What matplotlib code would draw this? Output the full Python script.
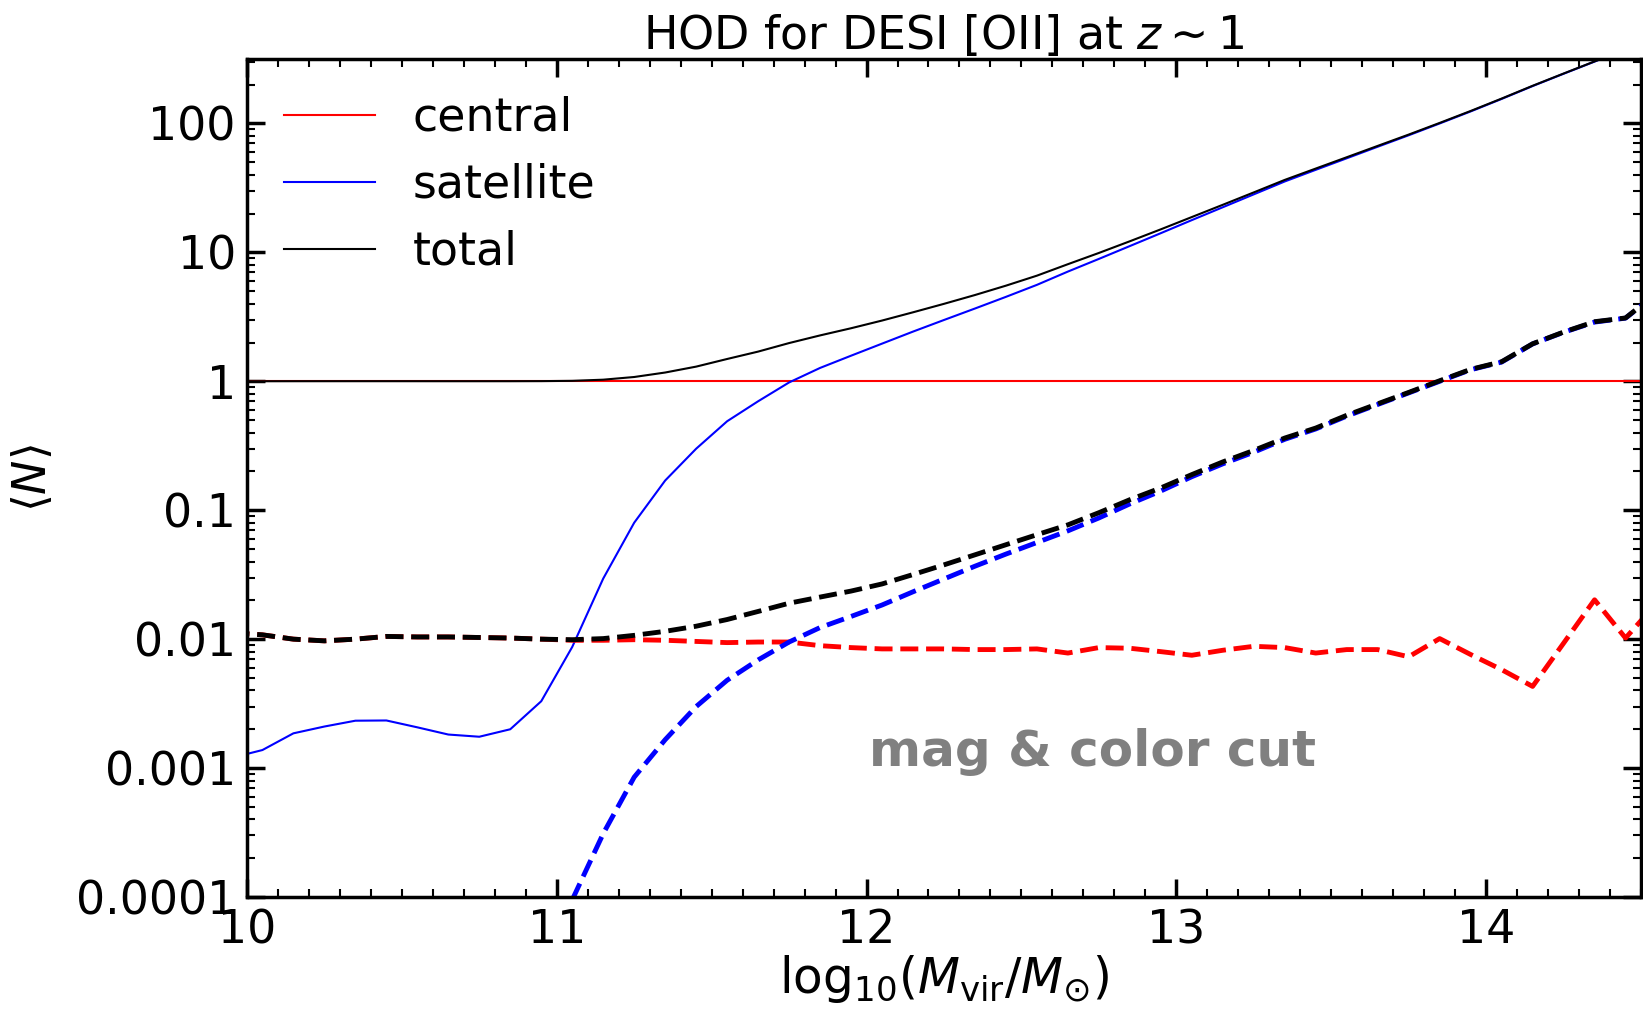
import matplotlib
matplotlib.use('Agg')
import matplotlib.pyplot as plt
from matplotlib.ticker import FixedLocator, MultipleLocator, LogLocator, NullFormatter

# halo mass bins, log10(Mvir/Msun)
logm = [9.95, 10.05, 10.15, 10.25, 10.35, 10.45, 10.55, 10.65, 10.75, 10.85,
        10.95, 11.05, 11.15, 11.25, 11.35, 11.45, 11.55, 11.65, 11.75, 11.85,
        11.95, 12.05, 12.15, 12.25, 12.35, 12.45, 12.55, 12.65, 12.75, 12.85,
        12.95, 13.05, 13.15, 13.25, 13.35, 13.45, 13.55, 13.65, 13.75, 13.85,
        13.95, 14.05, 14.15, 14.25, 14.35, 14.45, 14.55]

# all galaxies (solid)
cen_all = [1.0] * 47
sat_all = [0.0012, 0.00138, 0.00186, 0.0021, 0.00233, 0.00234, 0.00207, 0.00182, 0.00175, 0.0020,
           0.0033, 0.0087, 0.0295, 0.080, 0.17, 0.30, 0.49, 0.70, 0.98, 1.27,
           1.58, 1.96, 2.43, 2.99, 3.67, 4.52, 5.6, 7.1, 8.9, 11.2,
           14.1, 17.8, 22.4, 28.2, 35.5, 43.7, 53.7, 66.0, 81.0, 100.0,
           124.0, 155.0, 195.0, 243.0, 302.0, 376.0, 468.0]
tot_all = [1.0012, 1.0014, 1.0019, 1.0021, 1.0023, 1.0023, 1.0021, 1.0018, 1.0018, 1.0020,
           1.0033, 1.0087, 1.0295, 1.08, 1.17, 1.30, 1.49, 1.70, 1.98, 2.27,
           2.58, 2.96, 3.43, 3.99, 4.67, 5.52, 6.6, 8.1, 9.9, 12.2,
           15.1, 18.8, 23.4, 29.2, 36.5, 44.7, 54.7, 67.0, 82.0, 101.0,
           125.0, 156.0, 196.0, 244.0, 303.0, 377.0, 469.0]

# mag & color cut (dashed)
cen_cut = [0.0112, 0.0108, 0.0100, 0.0097, 0.0100, 0.0105, 0.0104, 0.0104, 0.0103, 0.0102,
           0.0100, 0.0098, 0.0098, 0.0099, 0.0098, 0.0096, 0.0094, 0.0095, 0.0095, 0.0089,
           0.0086, 0.0084, 0.0084, 0.0084, 0.0083, 0.0083, 0.0084, 0.0078, 0.0086, 0.0085,
           0.0080, 0.0075, 0.0082, 0.0088, 0.0086, 0.0078, 0.0083, 0.0083, 0.0073, 0.0101,
           0.0076, 0.0058, 0.0043, 0.0093, 0.0202, 0.0102, 0.019]
logm_sat_cut = logm[11:]
sat_cut = [9.5e-5, 3.1e-4, 8.5e-4, 1.66e-3, 3.0e-3, 4.8e-3, 6.9e-3, 9.5e-3, 0.0123,
           0.0150, 0.0184, 0.0233, 0.0293, 0.0368, 0.0457, 0.0562, 0.0692, 0.0871, 0.112,
           0.141, 0.182, 0.229, 0.282, 0.355, 0.427, 0.537, 0.661, 0.813, 1.0,
           1.23, 1.41, 1.95, 2.40, 2.88, 3.09, 4.79]
tot_cut = [0.0112, 0.0108, 0.0100, 0.0097, 0.0100, 0.0105, 0.0104, 0.0104, 0.0103, 0.0102,
           0.0100, 0.0099, 0.0101, 0.0107, 0.0115, 0.0126, 0.0142, 0.0164, 0.0190, 0.0212,
           0.0236, 0.0268, 0.0317, 0.0377, 0.0451, 0.0540, 0.0646, 0.0770, 0.0957, 0.1207,
           0.149, 0.189, 0.237, 0.291, 0.363, 0.434, 0.545, 0.669, 0.820, 1.010,
           1.238, 1.419, 1.954, 2.41, 2.90, 3.10, 4.81]

yticks = [1e-4, 1e-3, 1e-2, 1e-1, 1, 10, 100]
ylabels = ['0.0001', '0.001', '0.01', '0.1', '1', '10', '100']

fig = plt.figure(figsize=(16.43, 10.14), dpi=100)
ax = fig.add_axes([0.1503, 0.1154, 0.8485, 0.8264])

ax.plot(logm, cen_all, color='red', lw=1.5, label='central')
ax.plot(logm, sat_all, color='blue', lw=1.5, label='satellite')
ax.plot(logm, tot_all, color='black', lw=1.5, label='total')

ax.plot(logm, cen_cut, color='red', lw=3.5, ls='--')
ax.plot(logm_sat_cut, sat_cut, color='blue', lw=3.5, ls='--')
ax.plot(logm, tot_cut, color='black', lw=3.5, ls='--')

ax.set_yscale('log')
ax.set_xlim(10, 14.5)
ax.set_ylim(1e-4, 10**2.5)

ax.yaxis.set_major_locator(FixedLocator(yticks))
ax.set_yticklabels(ylabels)
ax.yaxis.set_minor_locator(LogLocator(base=10, subs=range(2, 10), numticks=20))
ax.yaxis.set_minor_formatter(NullFormatter())
ax.xaxis.set_major_locator(MultipleLocator(1))
ax.xaxis.set_minor_locator(MultipleLocator(0.1))

ax.tick_params(which='both', direction='in', top=True, right=True)
ax.tick_params(which='major', length=13, width=2.5, labelsize=33, pad=8)
ax.tick_params(which='minor', length=6, width=1.5)
for s in ax.spines.values():
    s.set_linewidth(2.5)

ax.set_xlabel(r'$\mathrm{log}_{10}(M_{\rm vir}/M_{\odot})$', fontsize=35, labelpad=0)
ax.set_ylabel(r'$\langle N\rangle$', fontsize=33, labelpad=14)
ax.set_title(r'HOD for DESI [OII] at $z\sim1$', fontsize=33, pad=6)

ax.text(12.73, 0.00133, 'mag & color cut', fontsize=36, fontweight='bold',
        color='gray', ha='center', va='center')

ax.legend(loc='upper left', frameon=False, fontsize=33, handlelength=2.0,
          handletextpad=0.82, labelspacing=0.48, borderaxespad=0.4)

fig.savefig('out.png', dpi=100)
